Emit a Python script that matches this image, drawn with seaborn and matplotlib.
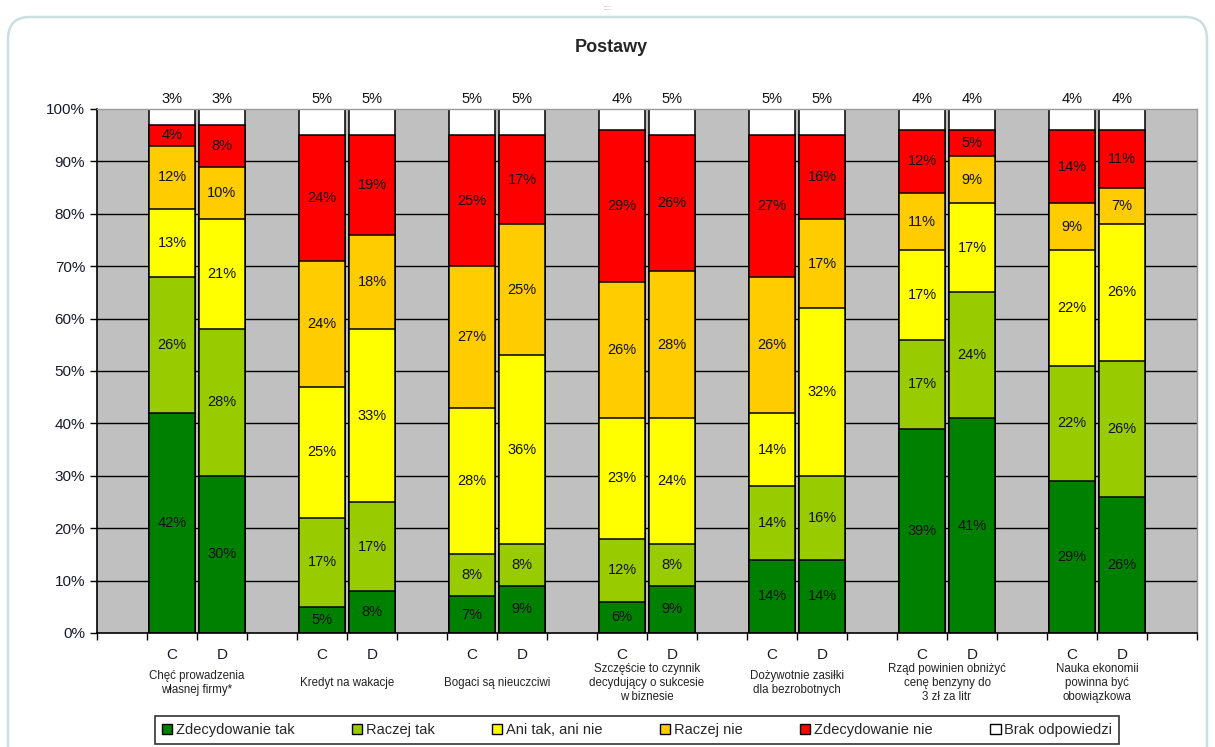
import numpy as np
import pandas as pd
import matplotlib
matplotlib.use("Agg")
import matplotlib.pyplot as plt
from matplotlib.patches import Patch, FancyBboxPatch
from matplotlib.transforms import IdentityTransform
import seaborn as sns

# Data (percent, bottom to top of each bar; bars go C, D for each statement)
answers = ["Zdecydowanie tak", "Raczej tak", "Ani tak, ani nie",
           "Raczej nie", "Zdecydowanie nie", "Brak odpowiedzi"]
statements = ["Chęć prowadzenia\nwłasnej firmy*",
              "Kredyt na wakacje",
              "Bogaci są nieuczciwi",
              "Szczęście to czynnik\ndecydujący o sukcesie\nw biznesie",
              "Dożywotnie zasiłki\ndla bezrobotnych",
              "Rząd powinien obniżyć\ncenę benzyny do\n3 zł za litr",
              "Nauka ekonomii\npowinna być\nobowiązkowa"]
groups = ["C", "D"]

zdecydowanie_tak = [42, 30, 5, 8, 7, 9, 6, 9, 14, 14, 39, 41, 29, 26]
raczej_tak = [26, 28, 17, 17, 8, 8, 12, 8, 14, 16, 17, 24, 22, 26]
ani_tak_ani_nie = [13, 21, 25, 33, 28, 36, 23, 24, 14, 32, 17, 17, 22, 26]
raczej_nie = [12, 10, 24, 18, 27, 25, 26, 28, 26, 17, 11, 9, 9, 7]
zdecydowanie_nie = [4, 8, 24, 19, 25, 17, 29, 26, 27, 16, 12, 5, 14, 11]
brak = [3, 3, 5, 5, 5, 5, 4, 5, 5, 5, 4, 4, 4, 4]

series = [zdecydowanie_tak, raczej_tak, ani_tak_ani_nie,
          raczej_nie, zdecydowanie_nie, brak]
colors = ["#008000", "#99CC00", "#FFFF00", "#FFCC00", "#FF0000", "#FFFFFF"]

# one slot per bar, an empty slot between statements
n_bars = len(zdecydowanie_tak)
xpos = np.array([1.5 + 3 * (j // 2) + (j % 2) for j in range(n_bars)])

vals = np.array(series, dtype=float)
tops = vals.cumsum(axis=0)
bottoms = tops - vals

sns.set_style("white")
plt.rcParams["font.family"] = ["Liberation Sans", "DejaVu Sans"]

fig = plt.figure(figsize=(12.15, 7.47), dpi=100)
ax = fig.add_axes([97 / 1215, 1 - 633 / 747, 1100 / 1215, 524 / 747])
ax.set_facecolor("#C0C0C0")

# stacked bars: draw cumulative totals from the top down
for i in range(len(answers) - 1, -1, -1):
    d = pd.DataFrame({"x": xpos, "top": tops[i]})
    sns.barplot(data=d, x="x", y="top", native_scale=True, color=colors[i],
                saturation=1, width=0.92, edgecolor="black", linewidth=1.1,
                errorbar=None, ax=ax, zorder=2)

# gridlines
for yv in range(10, 100, 10):
    ax.axhline(yv, color="black", lw=1, zorder=1)

# segment labels
for i in range(len(answers)):
    for j in range(n_bars):
        if i == len(answers) - 1:
            ax.text(xpos[j], 100.6, f"{int(vals[i, j])}%", ha="center",
                    va="bottom", fontsize=10.5, color="#111111")
        else:
            ax.text(xpos[j], bottoms[i, j] + vals[i, j] / 2,
                    f"{int(vals[i, j])}%", ha="center", va="center",
                    fontsize=10.5, color="#111111", zorder=3)

ax.set_xlim(0, 22)
ax.set_ylim(0, 100)
ax.set_yticks(range(0, 101, 10))
ax.set_yticklabels([f"{v}%" for v in range(0, 101, 10)], fontsize=11,
                   color="#1a1a2e")
ax.set_xticks(range(0, 23))
ax.set_xticklabels([])
ax.tick_params(axis="both", direction="out", length=5, width=1,
               color="black", left=True, bottom=True)
ax.set_xlabel("")
ax.set_ylabel("")
for s in ["left", "bottom"]:
    ax.spines[s].set_color("black")
    ax.spines[s].set_linewidth(1.2)
for s in ["top", "right"]:
    ax.spines[s].set_color("#9a9a9a")
    ax.spines[s].set_linewidth(1)

# category labels
tr = ax.get_xaxis_transform()
for j in range(n_bars):
    ax.text(xpos[j], -0.042, groups[j % 2], transform=tr, ha="center",
            va="center", fontsize=11, color="#1a1a2e")
for g, name in enumerate(statements):
    ax.text(2 + 3 * g, -0.095, name, transform=tr, ha="center", va="center",
            fontsize=8.3, color="#222222", linespacing=1.25)

fig.text(0.503, 1 - 47 / 747, "Postawy", ha="center", va="center",
         fontsize=13, fontweight="bold")

handles = [Patch(facecolor=c, edgecolor="black", label=a)
           for a, c in zip(answers, colors)]
leg = fig.legend(handles=handles, loc="center", ncol=6,
                 bbox_to_anchor=(637 / 1215, 1 - 730 / 747),
                 fontsize=10.5, frameon=True, fancybox=False,
                 handlelength=0.7, handleheight=0.7, handletextpad=0.25,
                 columnspacing=3.95, borderpad=0.5)
leg.get_frame().set_edgecolor("black")
leg.get_frame().set_linewidth(1.2)

# rounded outer frame
frame = FancyBboxPatch((8, -30), 1199, 747 - 17 + 30,
                       boxstyle="round,pad=0,rounding_size=22",
                       transform=IdentityTransform(), facecolor="none",
                       edgecolor="#c9dfe0", linewidth=1.8)
fig.patches.append(frame)
fig.text(0.5, 1 - 8 / 747, "::::", ha="center", va="center", fontsize=5,
         color="#888888")

fig.savefig("out.png", dpi=100)
